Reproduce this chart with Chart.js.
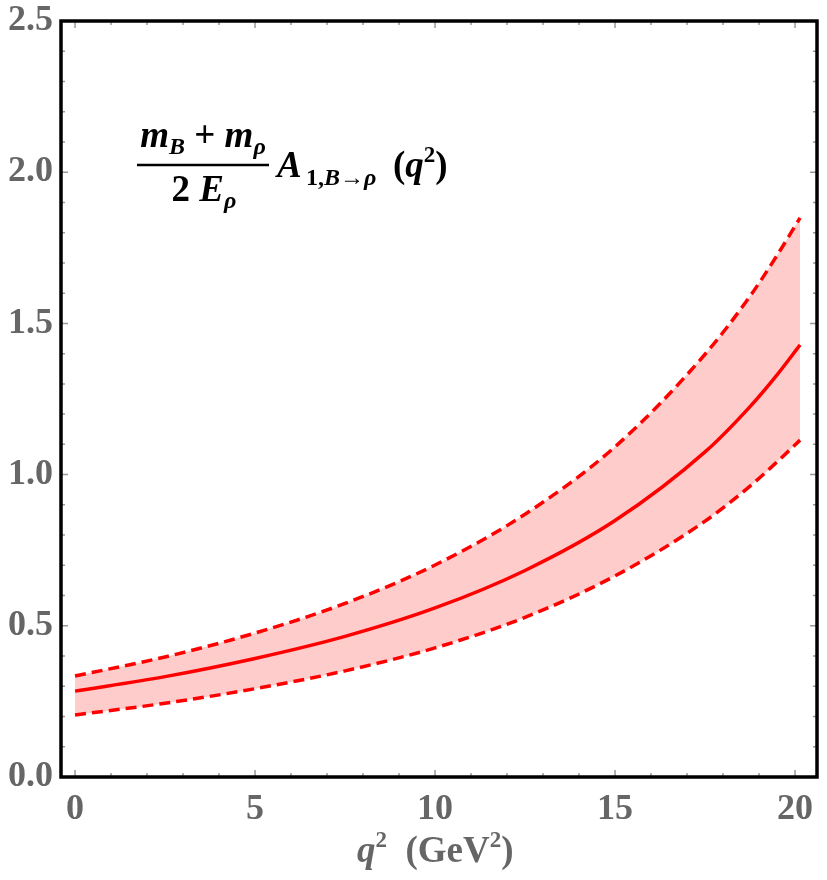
<!DOCTYPE html>
<html>
<head>
<meta charset="utf-8">
<script src="https://cdn.jsdelivr.net/npm/chart.js@4"></script>
<style>
html,body{margin:0;padding:0;background:#fff;}
#wrap{width:827px;height:880px;}
</style>
</head>
<body>
<div id="wrap"><canvas id="c" width="827" height="880"></canvas></div>
<script>
// Data
const q2 = [0, 2.5, 5, 7.5, 10, 12.5, 15, 17.5, 18.75, 19.5, 20.14];
const central = [0.284, 0.332, 0.392, 0.465, 0.559, 0.683, 0.848, 1.075, 1.225, 1.33, 1.429];
const upper = [0.334, 0.397, 0.476, 0.574, 0.701, 0.869, 1.092, 1.398, 1.59, 1.725, 1.849];
const lower = [0.205, 0.244, 0.292, 0.351, 0.427, 0.528, 0.665, 0.846, 0.962, 1.042, 1.114];
const xTicks = [0, 5, 10, 15, 20];
const yTicks = [0, 0.5, 1.0, 1.5, 2.0, 2.5];

const pts = arr => arr.map((v, i) => ({x: q2[i], y: v}));
const RED = '#ff0000';
const GRAY = '#666666';
const SERIF = '"Liberation Serif", "DejaVu Serif", serif';

function drawRuns(ctx, runs, x, y, align) {
  let total = 0;
  runs.forEach(r => { ctx.font = r[1]; total += ctx.measureText(r[0]).width; });
  let cx = align === 'center' ? x - total / 2 : x;
  runs.forEach(r => {
    ctx.font = r[1];
    ctx.fillText(r[0], cx, y + (r[2] || 0));
    cx += ctx.measureText(r[0]).width;
  });
  return total;
}

const framePlugin = {
  id: 'frame',
  afterDraw(chart) {
    const {ctx, chartArea: a, scales} = chart;
    ctx.save();
    ctx.strokeStyle = '#999';
    ctx.lineWidth = 1.5;
    const xs = scales.x, ys = scales.y;
    for (let v = 0; v <= 20; v += 1) {
      const px = xs.getPixelForValue(v);
      const len = v % 5 === 0 ? 7 : 4;
      ctx.beginPath();
      ctx.moveTo(px, a.bottom); ctx.lineTo(px, a.bottom - len);
      ctx.moveTo(px, a.top); ctx.lineTo(px, a.top + len);
      ctx.stroke();
    }
    for (let k = 0; k <= 25; k += 1) {
      const py = ys.getPixelForValue(k / 10);
      const len = k % 5 === 0 ? 7 : 4;
      ctx.beginPath();
      ctx.moveTo(a.left, py); ctx.lineTo(a.left + len, py);
      ctx.moveTo(a.right, py); ctx.lineTo(a.right - len, py);
      ctx.stroke();
    }
    ctx.strokeStyle = '#000';
    ctx.lineWidth = 3.5;
    ctx.strokeRect(a.left, a.top, a.right - a.left, a.bottom - a.top);

    // formula label
    ctx.fillStyle = '#000';
    ctx.textBaseline = 'alphabetic';
    const bi = s => 'bold italic ' + s + 'px ' + SERIF;
    const b = s => 'bold ' + s + 'px ' + SERIF;
    drawRuns(ctx, [
      ['m', bi(37)], ['B', bi(24), 7], [' + ', b(37)], ['m', bi(37)], ['ρ', bi(24), 7]
    ], 203, 147, 'center');
    ctx.lineWidth = 2.5;
    ctx.beginPath(); ctx.moveTo(137, 165); ctx.lineTo(269, 165); ctx.stroke();
    drawRuns(ctx, [
      ['2 ', b(37)], ['E', bi(37)], ['ρ', bi(24), 7]
    ], 204, 201, 'center');
    drawRuns(ctx, [['A', bi(37)]], 277, 177);
    drawRuns(ctx, [['1,', b(24)], ['B', bi(24)], ['→', b(24)], ['ρ', bi(24)]], 306, 185);
    drawRuns(ctx, [['(', b(37)], ['q', bi(37)], ['2', b(23), -15], [')', b(37)]], 393, 177);

    // x-axis title
    ctx.fillStyle = GRAY;
    drawRuns(ctx, [
      ['q', bi(37)], ['2', b(23), -15], ['  (GeV', b(37)], ['2', b(23), -15], [')', b(37)]
    ], 357, 862);
    ctx.restore();
  }
};

new Chart(document.getElementById('c'), {
  type: 'line',
  data: {
    datasets: [
      {data: pts(upper), borderColor: RED, borderWidth: 3.5, borderDash: [11, 6], pointRadius: 0,
       fill: 1, backgroundColor: 'rgba(255,0,0,0.2)', cubicInterpolationMode: 'monotone'},
      {data: pts(lower), borderColor: RED, borderWidth: 3.5, borderDash: [11, 6], pointRadius: 0,
       fill: false, cubicInterpolationMode: 'monotone'},
      {data: pts(central), borderColor: RED, borderWidth: 3.5, pointRadius: 0,
       fill: false, cubicInterpolationMode: 'monotone'}
    ]
  },
  options: {
    responsive: false,
    animation: false,
    layout: {padding: {left: 0, top: 21, right: 10, bottom: 0}},
    plugins: {legend: {display: false}, tooltip: {enabled: false}},
    scales: {
      x: {
        type: 'linear', min: -0.39, max: 20.61,
        grid: {display: false, drawTicks: false},
        border: {display: false},
        afterBuildTicks: s => { s.ticks = xTicks.map(v => ({value: v})); },
        afterFit: s => { s.height = 103; },
        ticks: {padding: 11, color: GRAY, font: {family: SERIF, size: 36, weight: 'bold'},
                maxRotation: 0, autoSkip: false, callback: v => String(v)}
      },
      y: {
        type: 'linear', min: 0, max: 2.5,
        grid: {display: false, drawTicks: false},
        border: {display: false},
        afterBuildTicks: s => { s.ticks = yTicks.map(v => ({value: v})); },
        afterFit: s => { s.width = 61; },
        ticks: {padding: 8, color: GRAY, font: {family: SERIF, size: 36, weight: 'bold', lineHeight: 0.7},
                autoSkip: false, callback: v => Number(v).toFixed(1)}
      }
    }
  },
  plugins: [framePlugin]
});
</script>
</body>
</html>
